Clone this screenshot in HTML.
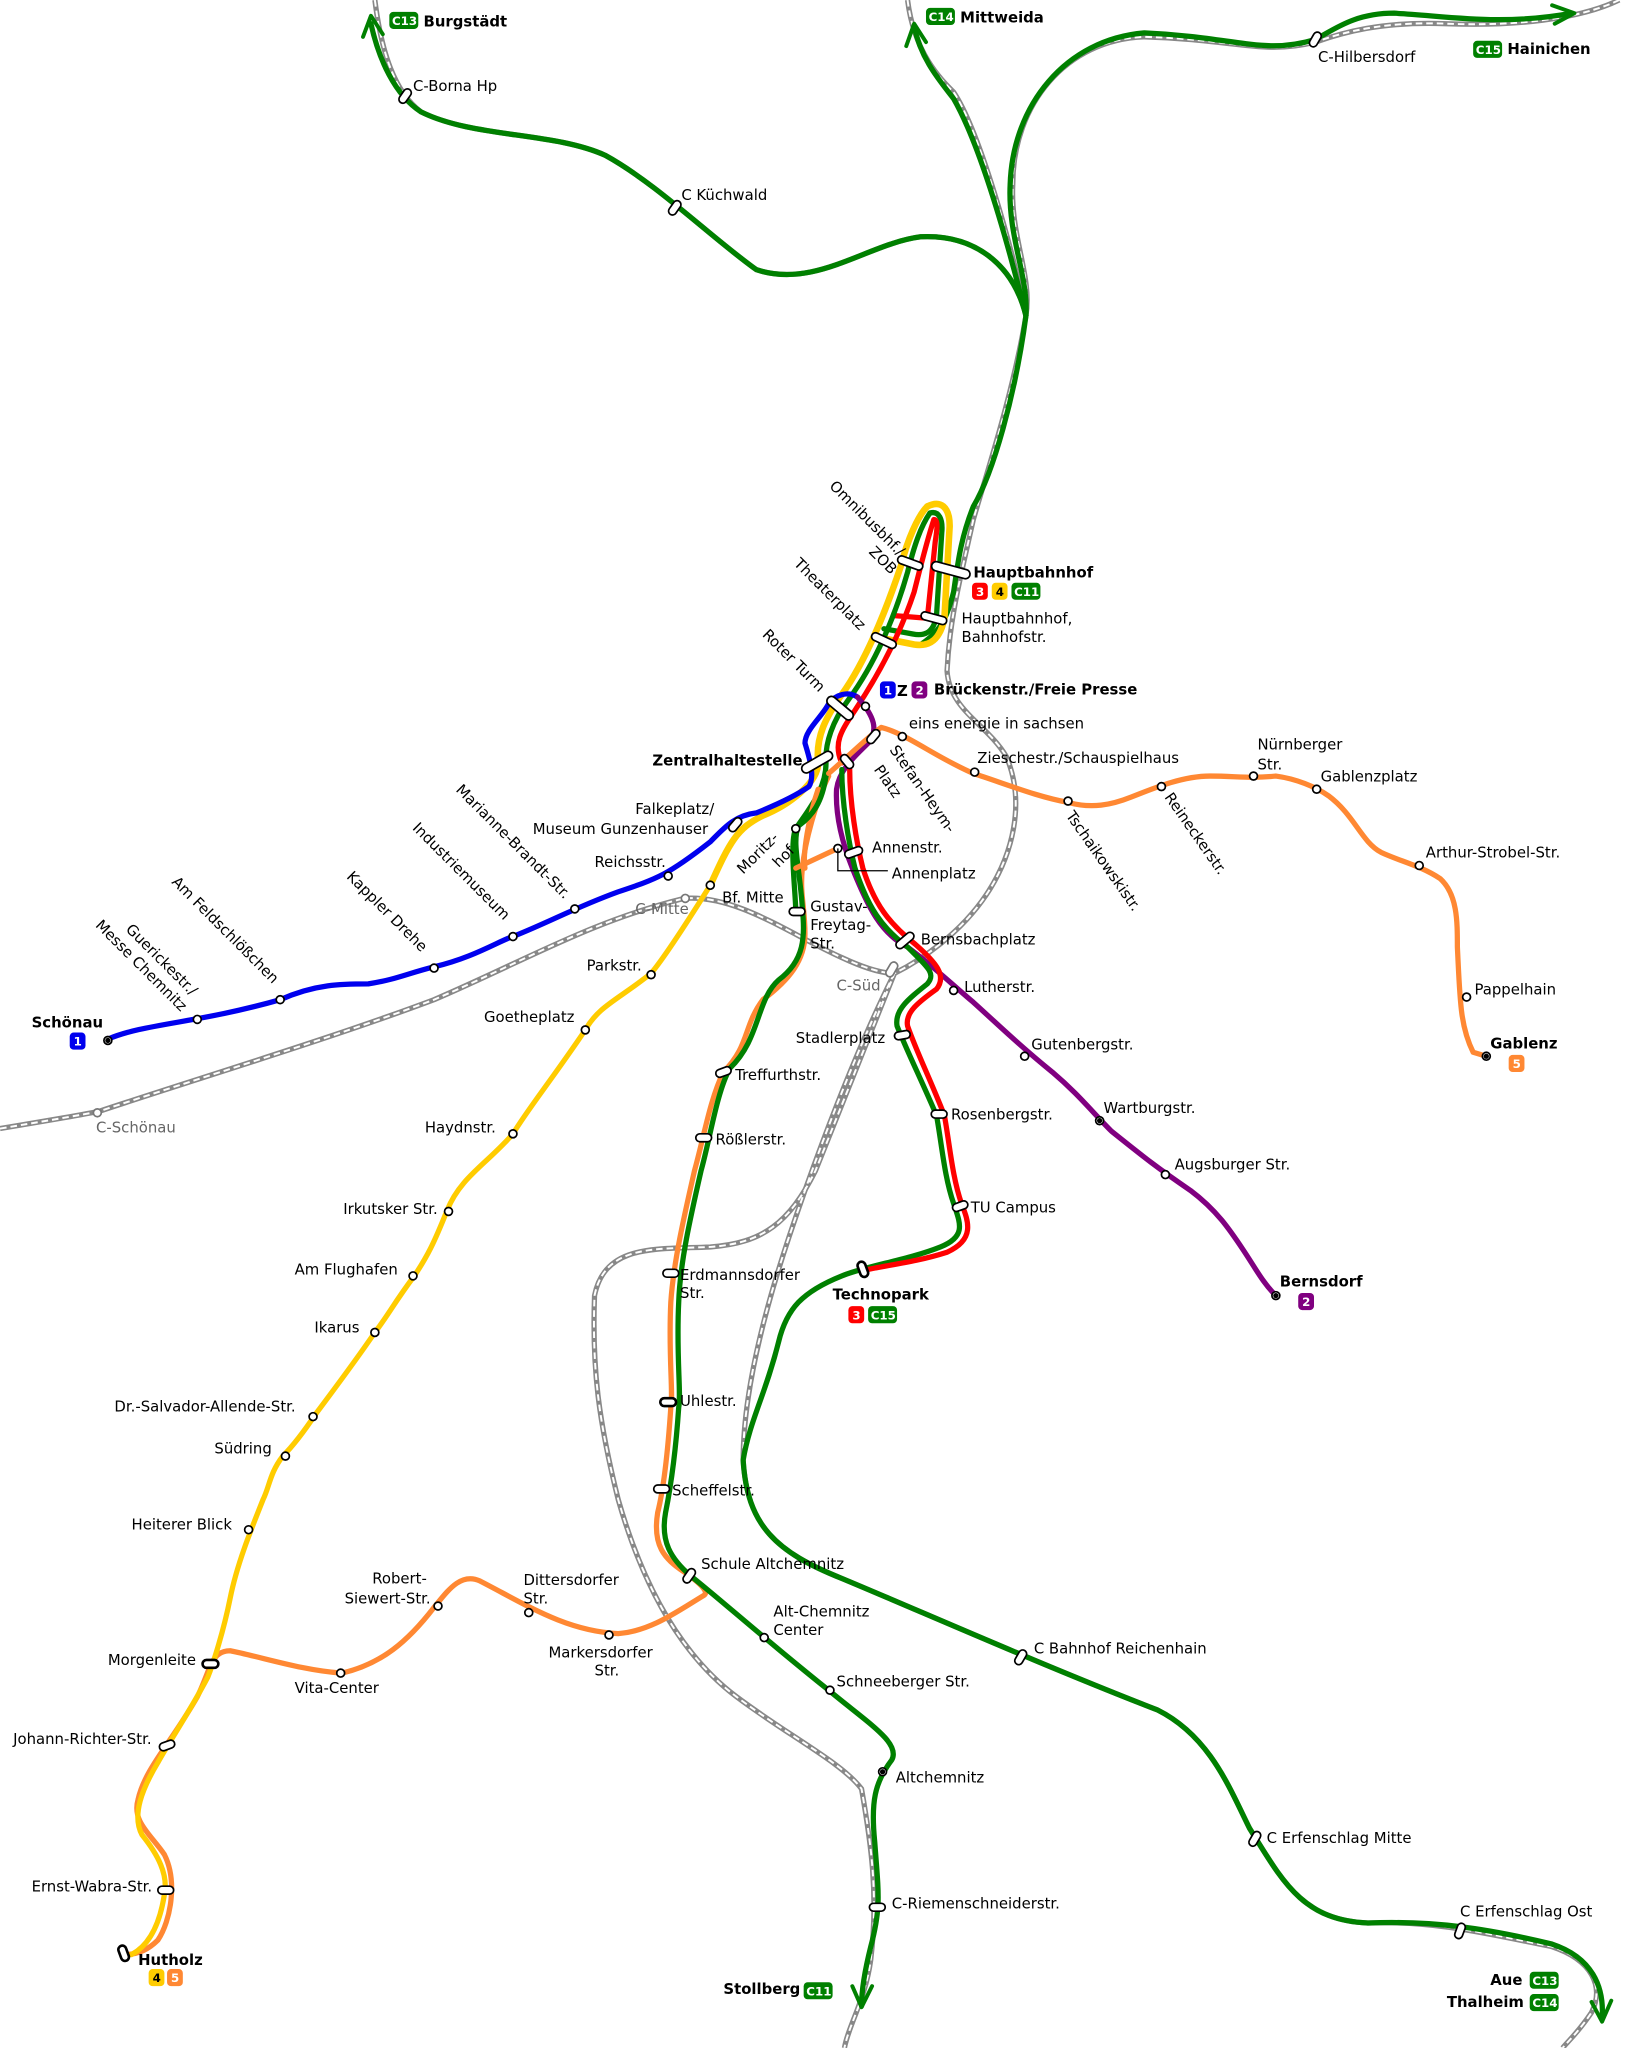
<!DOCTYPE html>
<html><head><meta charset="utf-8"><style>
html,body{margin:0;padding:0;background:#fff}
svg{display:block}
text{font-family:"DejaVu Sans","Liberation Sans",sans-serif;font-size:11.3px;fill:#000}
.b{font-weight:bold}
.g{fill:#666}
.rail{fill:none;stroke:#888;stroke-width:4}
.l{fill:none;stroke-width:4;stroke-linejoin:round;stroke-linecap:round}
.st{fill:#fff;stroke:#000;stroke-width:1.3}
.pill{fill:#fff;stroke:#000;stroke-width:1.3}
.tag{font-size:9px;font-weight:bold;fill:#fff}
</style></head><body>
<svg width="1631" height="2048" viewBox="0 0 1240 1557" xmlns="http://www.w3.org/2000/svg">
<g class="rail">
<path d="M285,0 C290,40 300,70 320,85 C360,105 420,100 460,118 C500,140 540,180 575,205 C620,220 660,185 700,180 C740,178 770,200 780,240"/>
<path d="M690,0 C695,40 715,60 725,70 C745,100 770,190 780,240"/>
<path d="M1231,0 C1200,15 1150,20 1100,18 C1050,16 1020,25 1000,32 C960,42 940,30 870,28 C810,30 770,80 770,140 C768,180 785,210 780,240"/>
<path d="M780,240 C770,300 750,360 740,395 C730,440 722,470 720,510 C722,540 750,550 765,575 C780,610 770,650 750,680 C730,710 700,730 680,740 C660,790 640,840 620,890 C600,930 580,945 540,948 C500,950 460,945 452,985 C450,1040 455,1080 470,1140 C490,1210 520,1260 560,1290 C600,1320 640,1340 655,1360 C662,1400 668,1440 662,1490 C658,1520 645,1540 642,1557"/>
<path d="M680,740 C650,800 620,880 600,940 C580,1000 565,1060 565,1110 C568,1160 590,1180 640,1200 C700,1225 790,1265 880,1300 C920,1320 935,1360 950,1390 C975,1430 990,1460 1040,1462 C1090,1460 1130,1470 1180,1480 C1210,1490 1220,1510 1210,1530 C1200,1545 1192,1552 1188,1557"/>
<path d="M0,858 C30,853 60,848 75,845 C150,820 250,790 330,760 C400,730 450,700 520,683 C560,680 600,710 640,728 C655,735 670,740 680,740"/>
</g>
<g fill="none" stroke="#fff" stroke-width="1.5" stroke-dasharray="5 3">
<path d="M285,0 C290,40 300,70 320,85 C360,105 420,100 460,118 C500,140 540,180 575,205 C620,220 660,185 700,180 C740,178 770,200 780,240"/>
<path d="M690,0 C695,40 715,60 725,70 C745,100 770,190 780,240"/>
<path d="M1231,0 C1200,15 1150,20 1100,18 C1050,16 1020,25 1000,32 C960,42 940,30 870,28 C810,30 770,80 770,140 C768,180 785,210 780,240"/>
<path d="M780,240 C770,300 750,360 740,395 C730,440 722,470 720,510 C722,540 750,550 765,575 C780,610 770,650 750,680 C730,710 700,730 680,740 C660,790 640,840 620,890 C600,930 580,945 540,948 C500,950 460,945 452,985 C450,1040 455,1080 470,1140 C490,1210 520,1260 560,1290 C600,1320 640,1340 655,1360 C662,1400 668,1440 662,1490 C658,1520 645,1540 642,1557"/>
<path d="M680,740 C650,800 620,880 600,940 C580,1000 565,1060 565,1110 C568,1160 590,1180 640,1200 C700,1225 790,1265 880,1300 C920,1320 935,1360 950,1390 C975,1430 990,1460 1040,1462 C1090,1460 1130,1470 1180,1480 C1210,1490 1220,1510 1210,1530 C1200,1545 1192,1552 1188,1557"/>
<path d="M0,858 C30,853 60,848 75,845 C150,820 250,790 330,760 C400,730 450,700 520,683 C560,680 600,710 640,728 C655,735 670,740 680,740"/>
</g>

<g class="l" stroke="#008000">
<path d="M282,18 C288,45 300,72 320,85 C360,105 420,100 460,118 C500,140 540,180 575,205 C620,220 660,185 700,180 C740,178 770,200 780,240"/>
<path d="M695,20 C700,45 715,62 725,75 C745,110 765,180 780,240"/>
<path d="M1195,10 C1140,20 1100,12 1060,10 C1030,10 1015,22 1000,30 C960,42 940,28 870,25 C810,30 770,80 768,140 C766,180 782,210 780,240"/>
<path d="M780,240 C772,300 755,360 740,385 C730,410 728,430 725,450 C720,470 715,480 700,490"/>
</g>
<g fill="none" stroke="#008000" stroke-width="3" stroke-linecap="round" stroke-linejoin="round">
<path d="M276,28 L282,12 L291,26"/>
<path d="M689,35 L695,18 L704,32"/>
<path d="M1180,4 L1197,10 L1182,18"/>
<path d="M648,1510 L655,1526 L663,1510"/>
<path d="M1210,1522 L1218,1537 L1225,1521"/>
</g>

<g class="l">
<path stroke="#FFCC00" stroke-width="5" d="M705,385 C715,380 722,385 722,400 L718,470 C715,485 708,492 695,490 L670,485"/>
<path stroke="#008000" d="M707,390 C714,388 717,395 716,405 L712,468 C710,480 704,484 694,482 L672,478"/>
<path stroke="#FF0000" d="M710,395 C714,395 712,405 711,412 L705,470 L680,468"/>
<path stroke="#FFCC00" stroke-width="5" d="M705,385 C698,392 690,410 685,430 C675,460 660,500 640,528 C628,545 620,560 622,580 C622,595 600,612 580,620 C560,630 555,640 540,673"/>
<path stroke="#008000" d="M707,390 C700,400 695,415 690,435 C680,470 665,505 645,532 C633,548 627,565 628,580 C628,600 615,615 605,630 C600,640 605,680 605,693"/>
<path stroke="#FF0000" d="M710,395 C705,410 700,430 695,450 C685,480 670,510 650,540 C640,555 633,565 640,580"/>
<path stroke="#FF8833" d="M622,600 C615,620 610,650 612,660"/>
<path stroke="#0000EE" d="M82,790 C110,778 150,778 213,760 C240,748 260,748 280,748 C300,745 310,740 330,735 C360,728 380,715 390,712 C420,700 437,690 470,678 C500,668 508,665 540,640 C550,630 558,620 575,618 C590,612 605,605 615,598 C620,590 615,575 612,565 C612,555 625,545 630,535 C635,528 645,525 652,530"/>
</g>
<path class="l" stroke="#800080" d="M652,530 C665,545 668,555 660,565 C650,575 638,585 636,600 C635,620 640,640 648,660 C660,690 670,710 690,720 C710,735 720,745 740,762 C760,780 775,795 800,815 C820,832 830,845 845,860 C870,880 880,888 905,905 C925,920 935,935 945,950 C955,965 960,975 970,985"/>
<g class="l">
<path stroke="#008000" d="M640,585 C640,610 645,640 650,660 C660,690 670,705 690,720 C705,735 712,740 705,748 C690,760 680,768 682,780 C690,800 700,820 712,848 C716,870 718,895 725,915 C730,930 735,940 715,948 C690,958 660,962 640,970 C610,982 598,995 592,1020 C582,1060 570,1080 565,1110 C568,1160 590,1180 640,1200 C700,1225 790,1265 880,1300 C920,1320 935,1360 950,1390 C975,1430 990,1460 1040,1462 C1090,1460 1130,1466 1180,1478 C1210,1488 1220,1510 1218,1535"/>
<path stroke="#FF0000" d="M646,585 C646,610 651,640 656,660 C665,688 676,702 696,718 C712,732 720,742 712,752 C698,762 688,770 690,780 C697,800 707,820 718,848 C722,870 724,895 731,915 C736,928 742,942 720,952 C695,960 672,962 656,966"/>
<path stroke="#FF8833" d="M630,590 C620,610 612,640 610,660 C608,680 612,690 612,710 C612,730 600,745 580,760 C565,780 570,795 550,815 C540,835 535,865 528,890 C520,925 512,960 510,990 C508,1030 512,1060 510,1070 C508,1100 505,1130 500,1150 C496,1175 505,1185 520,1195 C530,1202 540,1210 535,1213 C515,1225 495,1240 470,1242 C430,1240 400,1220 365,1202 C350,1195 340,1210 330,1222 C310,1248 290,1265 260,1272 C230,1270 200,1260 175,1255 C160,1255 160,1270 150,1290 C130,1325 110,1345 105,1368 C100,1385 115,1395 125,1410 C135,1430 130,1460 120,1475 C110,1485 100,1486 95,1486"/>
<path stroke="#008000" d="M628,590 C625,610 618,620 607,628 C602,640 608,660 610,690 C612,712 612,730 592,745 C575,760 578,790 555,812 C545,830 540,865 533,890 C525,925 517,960 516,990 C514,1030 518,1060 516,1070 C514,1100 510,1130 506,1150 C502,1172 510,1185 525,1198 C550,1218 580,1245 630,1285 C660,1310 685,1325 678,1338 C665,1355 662,1370 665,1400 C668,1440 670,1450 662,1480 C657,1500 655,1515 655,1525"/>
<path stroke="#FFCC00" d="M540,673 C520,705 505,728 495,740 C470,760 455,765 445,783 C420,820 400,845 390,862 C370,885 350,895 340,920 C330,945 325,955 315,970 C300,990 295,1000 285,1013 C270,1035 255,1055 240,1075 C230,1090 222,1100 215,1107 C205,1120 205,1130 200,1140 C190,1165 180,1190 175,1215 C170,1240 162,1265 158,1275 C145,1300 130,1322 120,1340 C108,1360 100,1380 108,1395 C120,1410 128,1425 125,1440 C122,1460 115,1478 100,1486"/>
<path stroke="#FF8833" d="M605,660 L637,645"/>
<path stroke="#FF8833" d="M630,588 C645,575 660,560 670,553 C690,558 710,575 740,588 C770,598 790,606 812,610 C830,615 845,612 860,606 C880,598 900,590 920,590 C940,590 950,592 970,590 C985,592 1000,598 1010,605 C1030,620 1035,640 1050,648 C1065,655 1080,658 1095,668 C1108,680 1108,700 1108,720 C1110,760 1110,780 1120,800 L1130,803"/>
</g>

<g>
<g class="st">
<circle cx="82" cy="791" r="3"/><circle cx="150" cy="775" r="3"/><circle cx="213" cy="760" r="3"/><circle cx="330" cy="736" r="3"/><circle cx="390" cy="712" r="3"/><circle cx="437" cy="691" r="3"/><circle cx="508" cy="666" r="3"/>
<circle cx="540" cy="673" r="3"/><circle cx="495" cy="741" r="3"/><circle cx="445" cy="783" r="3"/><circle cx="390" cy="862" r="3"/><circle cx="341" cy="921" r="3"/><circle cx="314" cy="970" r="3"/><circle cx="285" cy="1013" r="3"/><circle cx="238" cy="1077" r="3"/><circle cx="217" cy="1107" r="3"/><circle cx="189" cy="1163" r="3"/>
<circle cx="259" cy="1272" r="3"/><circle cx="333" cy="1221" r="3"/><circle cx="402" cy="1226" r="3"/><circle cx="463" cy="1243" r="3"/>
<circle cx="686" cy="560" r="3"/><circle cx="741" cy="587" r="3"/><circle cx="812" cy="609" r="3"/><circle cx="883" cy="598" r="3"/><circle cx="953" cy="590" r="3"/><circle cx="1001" cy="600" r="3"/><circle cx="1079" cy="658" r="3"/><circle cx="1115" cy="758" r="3"/><circle cx="1130" cy="803" r="3"/>
<circle cx="605" cy="630" r="3"/><circle cx="637" cy="645" r="3"/><circle cx="725" cy="753" r="3"/><circle cx="779" cy="803" r="3"/><circle cx="836" cy="852" r="3"/><circle cx="886" cy="893" r="3"/><circle cx="970" cy="985" r="3"/>
<circle cx="658" cy="537" r="3"/><circle cx="581" cy="1245" r="3"/><circle cx="631" cy="1285" r="3"/><circle cx="671" cy="1347" r="3"/>
<circle cx="74" cy="846" r="3" stroke="#777"/><circle cx="521" cy="683" r="3" stroke="#777"/>
</g>
<circle cx="82" cy="791" r="2" fill="#000"/><circle cx="836" cy="852" r="2" fill="#000"/><circle cx="970" cy="985" r="2" fill="#000"/><circle cx="1130" cy="803" r="2" fill="#000"/><circle cx="671" cy="1347" r="2" fill="#000"/>
<g class="pill">
<rect x="302" y="70" width="12" height="6" rx="3" transform="rotate(-55 308 73)"/>
<rect x="507" y="155" width="12" height="6" rx="3" transform="rotate(-55 513 158)"/>
<rect x="994" y="27" width="12" height="6" rx="3" transform="rotate(-60 1000 30)"/>
<rect x="682" y="425" width="20" height="6" rx="3" transform="rotate(20 692 428)"/>
<rect x="708" y="430" width="30" height="7" rx="3.5" transform="rotate(15 723 433)"/>
<rect x="700" y="467" width="20" height="6" rx="3" transform="rotate(15 710 470)"/>
<rect x="662" y="484" width="20" height="6" rx="3" transform="rotate(25 672 487)"/>
<rect x="627" y="535" width="24" height="7" rx="3.5" transform="rotate(40 639 538)"/>
<rect x="608" y="576" width="26" height="7" rx="3.5" transform="rotate(-30 621 579)"/>
<rect x="638" y="576" width="12" height="6" rx="3" transform="rotate(50 644 579)"/>
<rect x="658" y="557" width="12" height="6" rx="3" transform="rotate(-50 664 560)"/>
<rect x="553" y="624" width="12" height="6" rx="3" transform="rotate(-50 559 627)"/>
<rect x="642" y="645" width="14" height="6" rx="3" transform="rotate(-20 649 648)"/>
<rect x="600" y="690" width="12" height="6" rx="3"/>
<rect x="680" y="712" width="16" height="6" rx="3" transform="rotate(-40 688 715)"/>
<rect x="680" y="784" width="12" height="6" rx="3" transform="rotate(-10 686 787)"/>
<rect x="544" y="812" width="12" height="6" rx="3" transform="rotate(-20 550 815)"/>
<rect x="529" y="862" width="12" height="6" rx="3"/>
<rect x="708" y="844" width="12" height="6" rx="3"/>
<rect x="724" y="914" width="12" height="6" rx="3" transform="rotate(-20 730 917)"/>
<rect x="650" y="962" width="12" height="6" rx="3" transform="rotate(70 656 965)" stroke-width="2"/>
<rect x="504" y="965" width="12" height="6" rx="3"/>
<rect x="502" y="1063" width="12" height="6" rx="3" stroke-width="2"/>
<rect x="497" y="1129" width="12" height="6" rx="3"/>
<rect x="518" y="1195" width="12" height="6" rx="3" transform="rotate(-55 524 1198)"/>
<rect x="154" y="1262" width="12" height="6" rx="3" stroke-width="2"/>
<rect x="121" y="1324" width="12" height="6" rx="3" transform="rotate(-20 127 1327)"/>
<rect x="120" y="1434" width="12" height="6" rx="3"/>
<rect x="88" y="1482" width="12" height="6" rx="3" transform="rotate(70 94 1485)" stroke-width="2"/>
<rect x="770" y="1257" width="12" height="6" rx="3" transform="rotate(-60 776 1260)"/>
<rect x="948" y="1395" width="12" height="6" rx="3" transform="rotate(-60 954 1398)"/>
<rect x="1104" y="1465" width="12" height="6" rx="3" transform="rotate(-70 1110 1468)"/>
<rect x="661" y="1447" width="12" height="6" rx="3"/>
<rect x="672" y="734" width="12" height="6" rx="3" transform="rotate(-60 678 737)" stroke="#777"/>
</g>
<path d="M637,645 L637,662 L675,662" fill="none" stroke="#000" stroke-width="1"/>
</g>

<g>
<rect x="296" y="9" width="22" height="13" rx="3" fill="#008000"/><text x="298" y="19" class="tag">C13</text>
<rect x="704" y="6" width="22" height="13" rx="3" fill="#008000"/><text x="706" y="16" class="tag">C14</text>
<rect x="1120" y="31" width="22" height="13" rx="3" fill="#008000"/><text x="1122" y="41" class="tag">C15</text>
<rect x="739" y="443" width="12" height="13" rx="3" fill="#FF0000"/><text x="742" y="453" class="tag">3</text>
<rect x="754" y="443" width="12" height="13" rx="3" fill="#FFCC00"/><text x="757" y="453" class="tag" style="fill:#000">4</text>
<rect x="769" y="443" width="22" height="13" rx="3" fill="#008000"/><text x="771" y="453" class="tag">C11</text>
<rect x="669" y="518" width="12" height="13" rx="3" fill="#0000EE"/><text x="672" y="528" class="tag">1</text>
<text x="682" y="529" class="b" font-size="11">Z</text>
<rect x="693" y="518" width="12" height="13" rx="3" fill="#800080"/><text x="696" y="528" class="tag">2</text>
<rect x="53" y="785" width="12" height="13" rx="3" fill="#0000EE"/><text x="56" y="795" class="tag">1</text>
<rect x="1147" y="802" width="12" height="13" rx="3" fill="#FF8833"/><text x="1150" y="812" class="tag">5</text>
<rect x="987" y="983" width="12" height="13" rx="3" fill="#800080"/><text x="990" y="993" class="tag">2</text>
<rect x="645" y="993" width="12" height="13" rx="3" fill="#FF0000"/><text x="648" y="1003" class="tag">3</text>
<rect x="660" y="993" width="22" height="13" rx="3" fill="#008000"/><text x="662" y="1003" class="tag">C15</text>
<rect x="113" y="1497" width="12" height="13" rx="3" fill="#FFCC00"/><text x="116" y="1507" class="tag" style="fill:#000">4</text>
<rect x="127" y="1497" width="12" height="13" rx="3" fill="#FF8833"/><text x="130" y="1507" class="tag">5</text>
<rect x="611" y="1507" width="22" height="13" rx="3" fill="#008000"/><text x="613" y="1517" class="tag">C11</text>
<rect x="1163" y="1499" width="22" height="13" rx="3" fill="#008000"/><text x="1165" y="1509" class="tag">C13</text>
<rect x="1163" y="1516" width="22" height="13" rx="3" fill="#008000"/><text x="1165" y="1526" class="tag">C14</text>
</g>

<g>
<text x="322" y="20" class="b">Burgstädt</text>
<text x="730" y="17" class="b">Mittweida</text>
<text x="1146" y="41" class="b">Hainichen</text>
<text x="314" y="69">C-Borna Hp</text>
<text x="518" y="152">C Küchwald</text>
<text x="1002" y="47">C-Hilbersdorf</text>
<text x="740" y="439" class="b">Hauptbahnhof</text>
<text x="731" y="474">Hauptbahnhof,</text>
<text x="731" y="488">Bahnhofstr.</text>
<text x="710" y="528" class="b">Brückenstr./Freie Presse</text>
<text x="691" y="554">eins energie in sachsen</text>
<text x="743" y="580">Zieschestr./Schauspielhaus</text>
<text x="956" y="570">Nürnberger</text>
<text x="956" y="585">Str.</text>
<text x="1004" y="594">Gablenzplatz</text>
<text x="1084" y="652">Arthur-Strobel-Str.</text>
<text x="1121" y="756">Pappelhain</text>
<text x="1133" y="797" class="b">Gablenz</text>
<text x="496" y="582" class="b">Zentralhaltestelle</text>
<text x="483" y="619">Falkeplatz/</text>
<text x="405" y="634">Museum Gunzenhauser</text>
<text x="452" y="659">Reichsstr.</text>
<text x="663" y="648">Annenstr.</text>
<text x="678" y="668">Annenplatz</text>
<text x="549" y="686">Bf. Mitte</text>
<text x="483" y="695" class="g">C-Mitte</text>
<text x="616" y="693">Gustav-</text>
<text x="616" y="707">Freytag-</text>
<text x="616" y="721">Str.</text>
<text x="700" y="718">Bernsbachplatz</text>
<text x="636" y="753" class="g">C-Süd</text>
<text x="733" y="754">Lutherstr.</text>
<text x="605" y="793">Stadlerplatz</text>
<text x="784" y="798">Gutenbergstr.</text>
<text x="839" y="846">Wartburgstr.</text>
<text x="893" y="889">Augsburger Str.</text>
<text x="973" y="978" class="b">Bernsdorf</text>
<text x="446" y="738">Parkstr.</text>
<text x="368" y="777">Goetheplatz</text>
<text x="559" y="821">Treffurthstr.</text>
<text x="544" y="870">Rößlerstr.</text>
<text x="723" y="851">Rosenbergstr.</text>
<text x="738" y="922">TU Campus</text>
<text x="633" y="988" class="b">Technopark</text>
<text x="323" y="861">Haydnstr.</text>
<text x="261" y="923">Irkutsker Str.</text>
<text x="224" y="969">Am Flughafen</text>
<text x="239" y="1013">Ikarus</text>
<text x="87" y="1073">Dr.-Salvador-Allende-Str.</text>
<text x="163" y="1105">Südring</text>
<text x="100" y="1163">Heiterer Blick</text>
<text x="517" y="973">Erdmannsdorfer</text>
<text x="517" y="987">Str.</text>
<text x="517" y="1069">Uhlestr.</text>
<text x="511" y="1137">Scheffelstr.</text>
<text x="533" y="1193">Schule Altchemnitz</text>
<text x="588" y="1229">Alt-Chemnitz</text>
<text x="588" y="1243">Center</text>
<text x="636" y="1282">Schneeberger Str.</text>
<text x="681" y="1355">Altchemnitz</text>
<text x="678" y="1451">C-Riemenschneiderstr.</text>
<text x="550" y="1516" class="b">Stollberg</text>
<text x="786" y="1257">C Bahnhof Reichenhain</text>
<text x="963" y="1401">C Erfenschlag Mitte</text>
<text x="1110" y="1457">C Erfenschlag Ost</text>
<text x="1133" y="1509" class="b">Aue</text>
<text x="1100" y="1526" class="b">Thalheim</text>
<text x="283" y="1204">Robert-</text>
<text x="262" y="1219">Siewert-Str.</text>
<text x="398" y="1205">Dittersdorfer</text>
<text x="398" y="1219">Str.</text>
<text x="417" y="1260">Markersdorfer</text>
<text x="452" y="1274">Str.</text>
<text x="224" y="1287">Vita-Center</text>
<text x="82" y="1266">Morgenleite</text>
<text x="10" y="1326">Johann-Richter-Str.</text>
<text x="24" y="1438">Ernst-Wabra-Str.</text>
<text x="105" y="1494" class="b">Hutholz</text>
<text x="24" y="781" class="b">Schönau</text>
<text x="73" y="861" class="g">C-Schönau</text>
<text transform="translate(630,370) rotate(45)">Omnibusbhf./</text>
<text transform="translate(660,420) rotate(45)">ZOB</text>
<text transform="translate(603,429) rotate(45)">Theaterplatz</text>
<text transform="translate(579,483) rotate(45)">Roter Turm</text>
<text transform="translate(346,601) rotate(45)">Marianne-Brandt-Str.</text>
<text transform="translate(313,630) rotate(45)">Industriemuseum</text>
<text transform="translate(263,667) rotate(45)">Kappler Drehe</text>
<text transform="translate(130,671) rotate(45)">Am Feldschlößchen</text>
<text transform="translate(95,707) rotate(45)">Guerickestr./</text>
<text transform="translate(72,704) rotate(45)">Messe Chemnitz</text>
<text transform="translate(565,665) rotate(-45)">Moritz-</text>
<text transform="translate(592,660) rotate(-45)">hof</text>
<text transform="translate(676,570) rotate(55)">Stefan-Heym-</text>
<text transform="translate(664,585) rotate(55)">Platz</text>
<text transform="translate(810,620) rotate(55)">Tschaikowskistr.</text>
<text transform="translate(885,606) rotate(55)">Reineckerstr.</text>
</g>
</svg>
</body></html>
